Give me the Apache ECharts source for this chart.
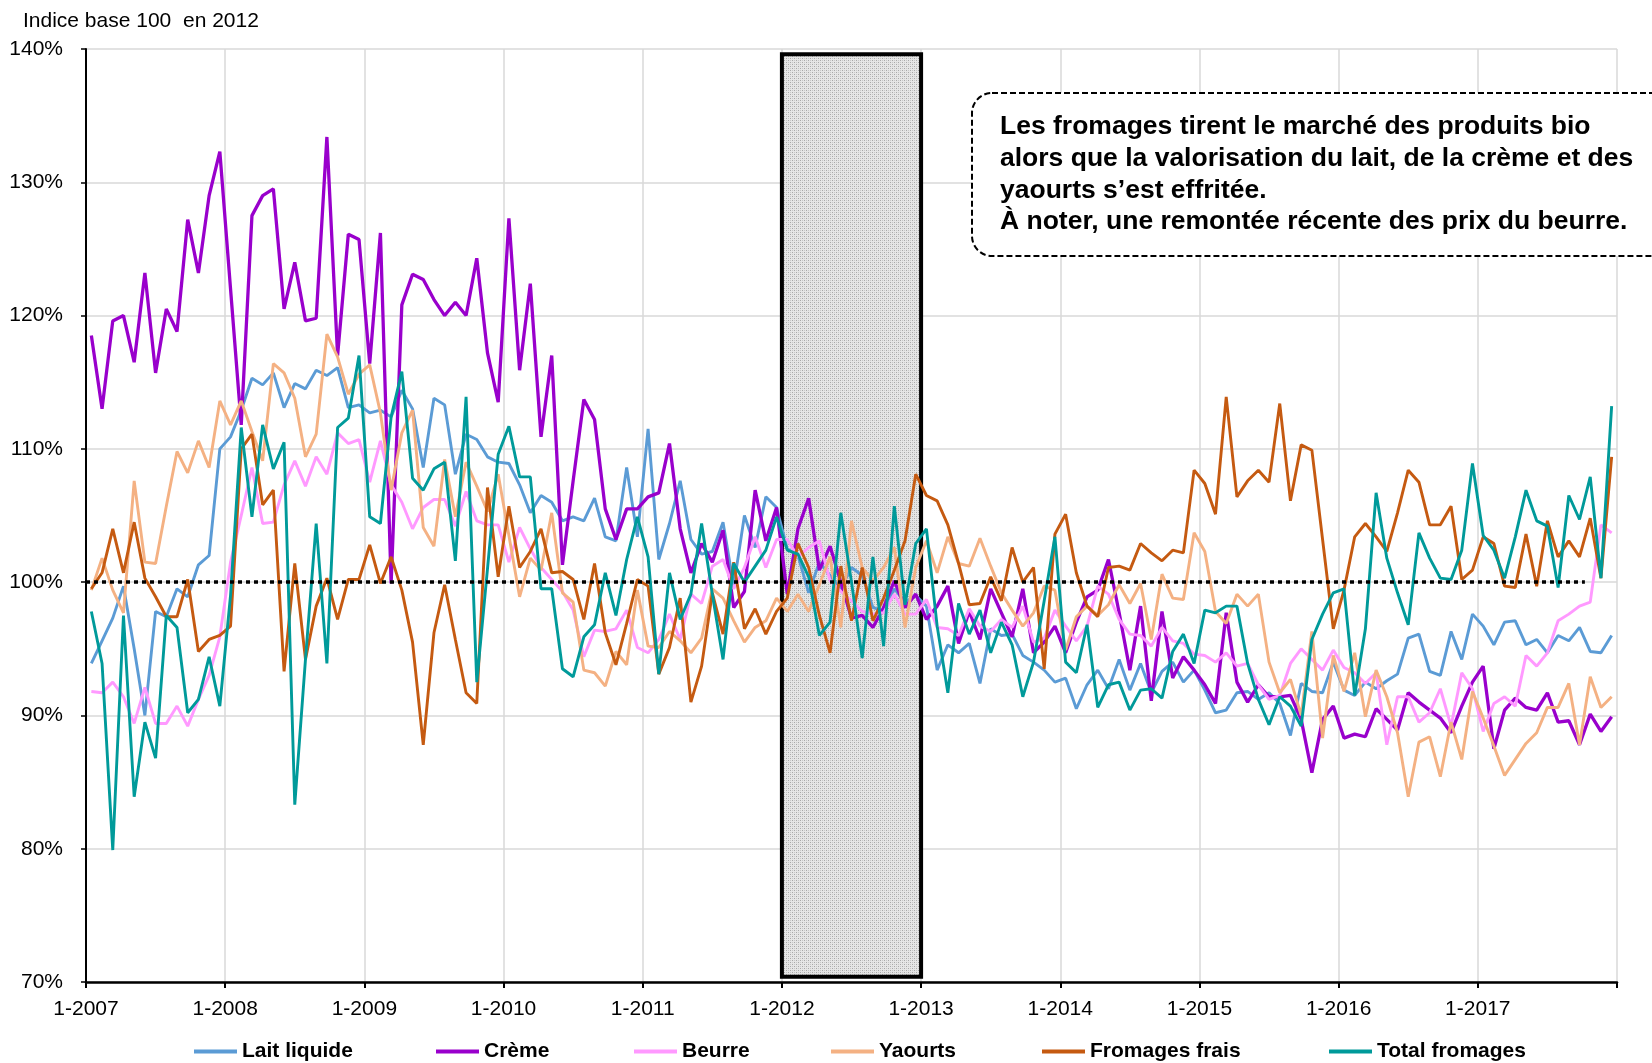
<!DOCTYPE html>
<html>
<head>
<meta charset="utf-8">
<script src="https://cdn.jsdelivr.net/npm/echarts@6.0.0/dist/echarts.min.js"></script>
<style>
  html, body { margin: 0; padding: 0; background: #fff; }
  #chart { width: 1652px; height: 1063px; }
</style>
</head>
<body>
<div id="chart"></div>
<script>
// périodes de 4 semaines : 13 par an, de 2007 à 2017
var yearLabels = ['1-2007', '1-2008', '1-2009', '1-2010', '1-2011', '1-2012', '1-2013', '1-2014', '1-2015', '1-2016', '1-2017']
var seriesNames = ['Lait liquide', 'Crème', 'Beurre', 'Yaourts', 'Fromages frais', 'Total fromages']

var laitLiquide = [93.9,95.6,97.3,99.7,95,90,97.8,97.4,99.5,98.9,101.3,102,110,
  110.9,112.9,115.3,114.8,115.7,113.1,114.9,114.5,115.9,115.5,116.1,113.1,113.3,
  112.7,112.9,112.4,114.4,113,108.6,113.8,113.3,108.1,111.1,110.7,109.4,109,
  108.9,107.3,105.2,106.5,106,104.6,104.9,104.6,106.3,103.4,103.1,108.6,103.4,
  111.5,101.7,104.4,107.6,103.2,102.1,102.3,104.5,99.7,105,102.6,106.4,105.6,
  102.5,102,99.2,101.5,100.5,99.5,101.1,100.5,98.1,97.8,99.5,98.5,99,
  98.2,93.4,95.3,94.7,95.4,92.4,96.5,96,96.1,94.5,94,93.4,92.5,
  92.8,90.5,92.3,93.4,92,94.2,91.9,93.9,91.7,93.3,94,92.5,93.4,
  91.9,90.2,90.4,91.7,91.8,91.2,91.7,90.9,88.5,92.4,91.8,91.7,94,
  91.9,91.5,92.5,92,92.6,93.1,95.8,96.1,93.3,93,96.3,94.2,97.6,
  96.7,95.3,97,97.1,95.3,95.7,94.7,96,95.6,96.6,94.8,94.7,96]

var creme = [118.5,113,119.6,120,116.5,123.2,115.7,120.5,118.8,127.2,123.2,129,132.3,
  122,111.8,127.5,129,129.5,120.5,124,119.6,119.8,133.4,117,126.1,125.7,
  116.4,126.2,99.9,120.8,123.1,122.7,121.2,120,121,120,124.3,117.2,113.5,
  127.3,115.9,122.4,110.9,117,101.3,107.6,113.7,112.2,105.5,103.2,105.5,105.5,
  106.4,106.7,110.4,104,100.7,102.9,101.5,103.9,98.1,99.3,106.9,103.1,105.6,
  99.1,104,106.3,100.9,102.7,100,97.3,97.5,96.6,98.1,100.1,98.1,99.1,
  97.2,98.2,99.7,95.4,97.8,95.7,99.5,97.7,95.9,99.5,94.7,95.5,96.7,
  94.7,97,98.9,99.4,101.7,97.7,93.4,98.2,91.1,97.8,92.8,94.4,93.4,
  92.3,90.9,97.7,92.5,91,92.3,91.4,91.4,91.5,89.7,85.7,89.7,90.7,
  88.3,88.6,88.4,90.5,89.7,88.9,91.7,91,90.4,89.8,88.7,90.7,92.5,
  93.7,87.5,90.4,91.3,90.6,90.4,91.7,89.5,89.6,87.8,90.1,88.8,89.9]

var beurre = [91.8,91.7,92.5,91.4,89.4,92.1,89.4,89.4,90.7,89.2,91.2,93,95.9,
  101.5,105,108.6,104.4,104.5,107.3,109.1,107.2,109.4,108.1,111.2,110.4,110.7,
  107.5,110.6,107.3,106,104,105.6,106.2,106.2,104.2,106.8,104.6,104.3,104.3,
  101.5,104.1,102.5,101.1,100.2,99.3,97.9,94.4,96.4,96.3,96.5,97.9,95.1,
  94.7,95.7,97.6,95.7,99.1,98.4,101.2,101.7,99.5,101.1,103.4,101.1,103.2,
  103.2,101.9,102.6,103.1,100.1,99.3,98.6,97.8,97.6,97.7,99.1,97.6,97.6,
  98.7,96.6,96.5,96,98,96.7,96.3,97.2,96.6,98.2,95.5,95.8,97.9,
  96.7,95.6,96.7,99.7,99.1,97.2,96.1,96,95.2,96.6,95.6,95.4,94.6,
  94.5,94,94.7,93.7,93.9,92.3,91.2,91.5,93.9,95,94.2,93.4,94.9,
  93.6,93.2,92.4,93.2,87.8,91.4,91.4,89.5,90.2,92,89.2,93.2,92,
  88.8,90.9,91.4,90.7,94.5,93.7,94.7,97.1,97.6,98.2,98.5,104.3,103.7]

var yaourts = [99.4,101.8,99.4,97.7,107.6,101.5,101.4,105.7,109.8,108.2,110.6,108.6,113.6,
  111.8,113.6,111.3,109.1,116.4,115.7,113.8,109.4,111.1,118.6,116.9,114.1,115.6,
  116.3,112.7,106.9,111.2,112.9,104.1,102.7,109.2,104.9,109,107.2,105.3,108.1,
  103.5,98.9,101.8,100.9,105.2,99.2,98.5,93.4,93.2,92.2,94.8,93.8,99.4,
  95.2,95.1,96.3,95.6,94.7,95.8,99.5,98.8,97.1,95.5,96.6,97.1,98.8,
  97.8,99.1,97.8,99.8,101.9,96.6,104.6,101.1,100.1,101.1,102.6,96.6,101.1,
  103.1,100.7,103.4,101.4,101.2,103.3,101.2,99.2,97.9,96.7,97.7,99.7,99.4,
  94.9,97.4,98.2,97.5,98.3,99.8,98.4,99.9,95.7,100.6,98.8,98.7,103.7,
  102.3,97.8,96.9,99.1,98.2,99.1,94,91.7,92.7,90,96.3,88.3,94.5,
  91.8,94.7,89.9,93.4,91.4,88.7,83.9,88,88.4,85.4,89.5,86.7,91.8,
  89.8,87.7,85.5,86.7,87.9,88.7,90.6,90.6,92.4,87.8,92.9,90.6,91.4]

var fromagesFrais = [99.5,100.7,104,100.7,104.5,100.3,98.9,97.4,97.4,100.2,94.8,95.7,96,
  96.7,110,111.1,105.8,106.9,93.3,101.4,94.2,98.2,100.3,97.2,100.2,100.2,
  102.8,99.9,101.9,99.4,95.5,87.8,96.2,99.8,95.7,91.7,90.9,107.1,100.4,
  105.7,101.1,102.3,104,100.7,100.8,100.2,97.2,101.4,96.2,93.8,96.9,100.2,
  99.7,93.1,95.1,98.8,91,93.7,99.2,96.1,101.5,96.5,98,96.1,97.8,
  98.8,102.9,101.1,97.5,94.7,101.2,97.1,101.1,97.1,98.8,100.9,103.1,108.1,
  106.5,106.1,104.3,101.4,98.3,98.4,100.4,98.6,102.6,100,101.1,93.5,103.6,
  105.1,100.7,98.2,97.4,101.1,101.2,100.9,102.9,102.2,101.6,102.4,102.2,108.4,
  107.4,105.1,113.9,106.4,107.6,108.4,107.5,113.4,106.1,110.3,109.9,103.2,96.5,
  99.4,103.4,104.4,103.4,102.3,105.2,108.4,107.5,104.3,104.3,105.7,100.2,100.9,
  103.4,102.9,99.7,99.6,103.6,99.7,104.6,101.9,103.1,101.9,104.8,100.3,109.4]

var totalFromages = [97.8,93.9,79.9,97.5,83.9,89.5,86.8,97.5,96.6,90.2,91.2,94.4,90.7,
  99,111.6,104.9,111.8,108.5,110.5,83.3,94.2,104.4,93.9,111.6,112.3,117,
  104.9,104.4,112.4,115.8,107.8,106.9,108.5,109,101.6,113.9,92.5,101,109.6,
  111.7,107.9,107.9,99.5,99.5,93.5,92.9,95.9,96.8,100.7,97.5,101.7,104.9,
  101.9,93.1,100.7,97.2,99.1,104.4,99.1,94.2,101.4,100,101.2,102.4,104.9,
  102.4,102.1,100.4,96,97,105.2,100,94.3,101.9,95.2,105.7,98.3,102.9,
  104,96.7,91.7,98.4,96.1,97.9,94.7,97,95.3,91.4,94,98.6,103.4,
  94,93.2,96.8,90.6,92.3,92.5,90.4,91.9,92,91.3,94.8,96.1,93.9,
  97.9,97.7,98.2,98.2,93.9,91.2,89.3,91.4,90.7,89.2,95.7,97.6,99.2,
  99.5,91.5,96.5,106.7,101.8,99.2,96.8,103.7,101.8,100.3,100.2,102.4,108.9,
  103.5,102.4,100.3,103.4,106.9,104.6,104.2,99.6,106.5,104.7,107.9,100.3,113.2]

var allValues = [laitLiquide, creme, beurre, yaourts, fromagesFrais, totalFromages]
var colors = ['#5B9BD5', '#9900CC', '#FF99FF', '#F4B183', '#C55A11', '#009A9A']
var legendLeft = [189, 431, 629, 826, 1037, 1324]

var font = "'Liberation Sans', Arial, sans-serif"

// trame grise de l'année 2012
var pat = document.createElement('canvas')
pat.width = 4
pat.height = 4
var pctx = pat.getContext('2d')
pctx.fillStyle = '#e6e6e6'
pctx.fillRect(0, 0, 4, 4)
pctx.fillStyle = '#a8a8a8'
pctx.fillRect(0, 0, 1, 1)
pctx.fillRect(2, 2, 1, 1)
pctx.fillStyle = '#c8c8c8'
pctx.fillRect(2, 0, 1, 1)
pctx.fillRect(0, 2, 1, 1)

function toPoints(arr) {
  var out = []
  for (var i = 0; i < arr.length; i++) {
    out.push([i + 0.5, arr[i]])
  }
  return out
}

var series = []
for (var s = 0; s < seriesNames.length; s++) {
  var ser = {
    name: seriesNames[s],
    type: 'line',
    data: toPoints(allValues[s]),
    symbol: 'none',
    showSymbol: false,
    color: colors[s],
    lineStyle: { width: s == 1 ? 3.3 : 2.9, color: colors[s] },
    emphasis: { disabled: true }
  }
  if (s == 0) {
    ser.markArea = {
      silent: true,
      itemStyle: {
        color: { image: pat, repeat: 'repeat' },
        borderColor: '#000',
        borderWidth: 4
      },
      data: [[{ coord: [65, 139.6] }, { coord: [78, 70.4] }]]
    }
  }
  if (s == seriesNames.length - 1) {
    ser.markLine = {
      silent: true,
      symbol: ['none', 'none'],
      label: { show: false },
      lineStyle: { color: '#000', width: 3.5, type: [4, 4] },
      data: [[{ coord: [0, 100] }, { coord: [140, 100] }]]
    }
  }
  series.push(ser)
}

var legends = []
for (var k = 0; k < seriesNames.length; k++) {
  legends.push({
    data: [seriesNames[k]],
    left: legendLeft[k],
    top: 1036,
    icon: 'rect',
    itemWidth: 43,
    itemHeight: 4,
    itemGap: 5,
    selectedMode: false,
    textStyle: { fontFamily: font, fontSize: 21, fontWeight: 'bold', color: '#000' }
  })
}

var myChart = echarts.init(document.getElementById('chart'))
var option = {
  animation: false,
  backgroundColor: '#fff',
  textStyle: { fontFamily: font },
  grid: { left: 86, top: 49, width: 1531, height: 933, outerBoundsMode: 'none' },
  legend: legends,
  xAxis: {
    type: 'value',
    min: 0,
    max: 143,
    interval: 13,
    axisLine: { show: true, lineStyle: { color: '#000', width: 2.5 } },
    axisTick: { show: true, inside: false, length: 6, lineStyle: { color: '#000', width: 2 } },
    splitLine: { show: true, lineStyle: { color: '#d9d9d9', width: 1.5 } },
    axisLabel: {
      color: '#000',
      fontSize: 21,
      margin: 17,
      formatter: function (v) {
        var k = Math.round(v / 13)
        return k < yearLabels.length ? yearLabels[k] : ''
      }
    }
  },
  yAxis: {
    type: 'value',
    min: 70,
    max: 140,
    interval: 10,
    axisLine: { show: true, lineStyle: { color: '#000', width: 2 } },
    axisTick: { show: true, inside: false, length: 5, lineStyle: { color: '#000', width: 1.5 } },
    splitLine: { show: true, lineStyle: { color: '#d9d9d9', width: 1.5 } },
    axisLabel: { color: '#000', fontSize: 21, margin: 23, formatter: '{value}%' }
  },
  graphic: [
    {
      type: 'text',
      left: 23,
      top: 11,
      style: { text: 'Indice base 100  en 2012', font: '21px ' + font, fill: '#000' }
    },
    {
      type: 'rect',
      shape: { x: 972, y: 93, width: 700, height: 163, r: 20 },
      style: { fill: '#fff', stroke: '#000', lineWidth: 2, lineDash: [6, 3] },
      z: 50
    },
    {
      type: 'text',
      x: 1000,
      y: 127,
      z: 51,
      style: { text: 'Les fromages tirent le marché des produits bio', font: 'bold 26.5px ' + font, fill: '#000', verticalAlign: 'middle' }
    },
    {
      type: 'text',
      x: 1000,
      y: 159,
      z: 51,
      style: { text: 'alors que la valorisation du lait, de la crème et des', font: 'bold 26.5px ' + font, fill: '#000', verticalAlign: 'middle' }
    },
    {
      type: 'text',
      x: 1000,
      y: 191,
      z: 51,
      style: { text: 'yaourts s’est effritée.', font: 'bold 26.5px ' + font, fill: '#000', verticalAlign: 'middle' }
    },
    {
      type: 'text',
      x: 1000,
      y: 222,
      z: 51,
      style: { text: 'À noter, une remontée récente des prix du beurre.', font: 'bold 26.5px ' + font, fill: '#000', verticalAlign: 'middle' }
    }
  ],
  series: series
}
myChart.setOption(option)
</script>
</body>
</html>
